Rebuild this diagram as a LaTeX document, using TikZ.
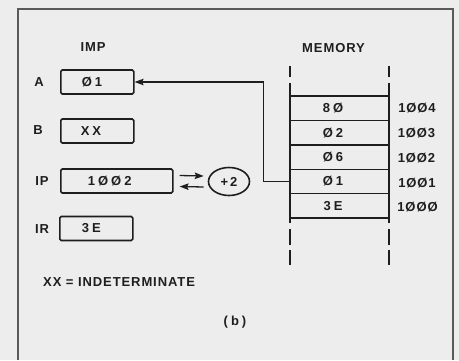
\documentclass[tikz,border=0pt]{standalone}
\usepackage{fontspec}
\setmainfont{Liberation Sans}[LetterSpace=7]
\usetikzlibrary{arrows.meta,shapes.geometric}
\definecolor{bg}{HTML}{EDEDED}
\definecolor{ink}{HTML}{1E1E1E}
\definecolor{framec}{HTML}{5A5A5A}
\begin{document}
\begin{tikzpicture}[x=1pt,y=-1pt,
  every node/.style={text=ink, font=\fontsize{13}{15}\selectfont\bfseries},
  reg/.style={draw=ink, line width=1.6pt, rounded corners=1.5pt, minimum height=24pt, anchor=west, align=left},
  cell/.style={draw=ink, line width=1.4pt, minimum width=99pt, minimum height=24.4pt, inner sep=0pt},
  lbl/.style={inner sep=0pt},
  mline/.style={draw=ink, line width=1.6pt},
  conn/.style={draw=ink, line width=1.3pt},
  tip/.style={-{Stealth[length=9pt,width=6.5pt,inset=1.5pt]}}
]
\fill[bg] (0,0) rectangle (459,360);
\useasboundingbox (0,0) rectangle (459,360);
\draw[framec, line width=1.4pt] (18,360) -- (18,9) -- (453,9) -- (453,360);

% IMP registers
\node[lbl] (imp) at (93,47.5) {IMP};
\node[lbl] (la) at (39,82) {A};
\node[lbl] (lb) at (38,130.5) {B};
\node[lbl] (lip) at (42,181) {IP};
\node[lbl] (lir) at (42,229) {IR};

\node[reg, inner xsep=21pt, text width=31pt] (A) at (60,82) {Ø\hspace{3pt}1};
\node[reg, inner xsep=20pt, text width=33pt] (B) at (60,131) {X\hspace{3pt}X};
\node[reg, inner xsep=27pt, text width=58pt] (IP) at (60,181) {1\hspace{3pt}Ø\hspace{3pt}Ø\hspace{3pt}2};
\node[reg, inner xsep=22pt, text width=29pt] (IR) at (59,228.5) {3\hspace{3pt}E};

% incrementer
\node[ellipse, draw=ink, line width=1.6pt, minimum width=41pt, minimum height=28pt, inner sep=0pt] (inc) at (229,181.5) {+\hspace{2pt}2};
\draw[conn, tip] ([xshift=6pt,yshift=5.5pt]IP.east) -- ([xshift=-4pt,yshift=5.5pt]inc.west);
\draw[conn, tip] ([xshift=-4pt,yshift=-5.5pt]inc.west) -- ([xshift=6pt,yshift=-5.5pt]IP.east);

% memory
\node[lbl] (mem) at (333.5,48.5) {MEMORY};
\foreach \x in {290,389}{
  \draw[mline] (\x,66) -- (\x,77);
  \draw[mline] (\x,83) -- (\x,223);
  \draw[mline] (\x,229) -- (\x,245);
  \draw[mline] (\x,250) -- (\x,265);
}
\node[cell] (c4) at (339.5,108.2) {};
\node[cell] (c3) at (339.5,132.6) {};
\node[cell] (c2) at (339.5,157.0) {};
\node[cell] (c1) at (339.5,181.4) {};
\node[cell] (c0) at (339.5,205.8) {};
\node[lbl] (t4) at ([xshift=-6.5pt]c4.center) {8\hspace{3pt}Ø};
\node[lbl] (t3) at ([xshift=-6.5pt]c3.center) {Ø\hspace{3pt}2};
\node[lbl] (t2) at ([xshift=-6.5pt]c2.center) {Ø\hspace{3pt}6};
\node[lbl] (t1) at ([xshift=-6.5pt]c1.center) {Ø\hspace{3pt}1};
\node[lbl] (t0) at ([xshift=-6.5pt]c0.center) {3\hspace{3pt}E};
\node[lbl] (a4) at (417,108.5) {1ØØ4};
\node[lbl] (a3) at (416.5,133) {1ØØ3};
\node[lbl] (a2) at (416.5,158) {1ØØ2};
\node[lbl] (a1) at (417,183) {1ØØ1};
\node[lbl] (a0) at (417.5,207) {1ØØØ};

% connector from memory 1001 to A
\draw[conn, tip] (c1.west) -- ++(-26,0) |- (A.east);

% legend
\node[lbl, anchor=west] (legend) at (43,282) {XX = INDETERMINATE};
\node[lbl] (cap) at (235,322) {(\hspace{3pt}b\hspace{3pt})};
\end{tikzpicture}
\end{document}
